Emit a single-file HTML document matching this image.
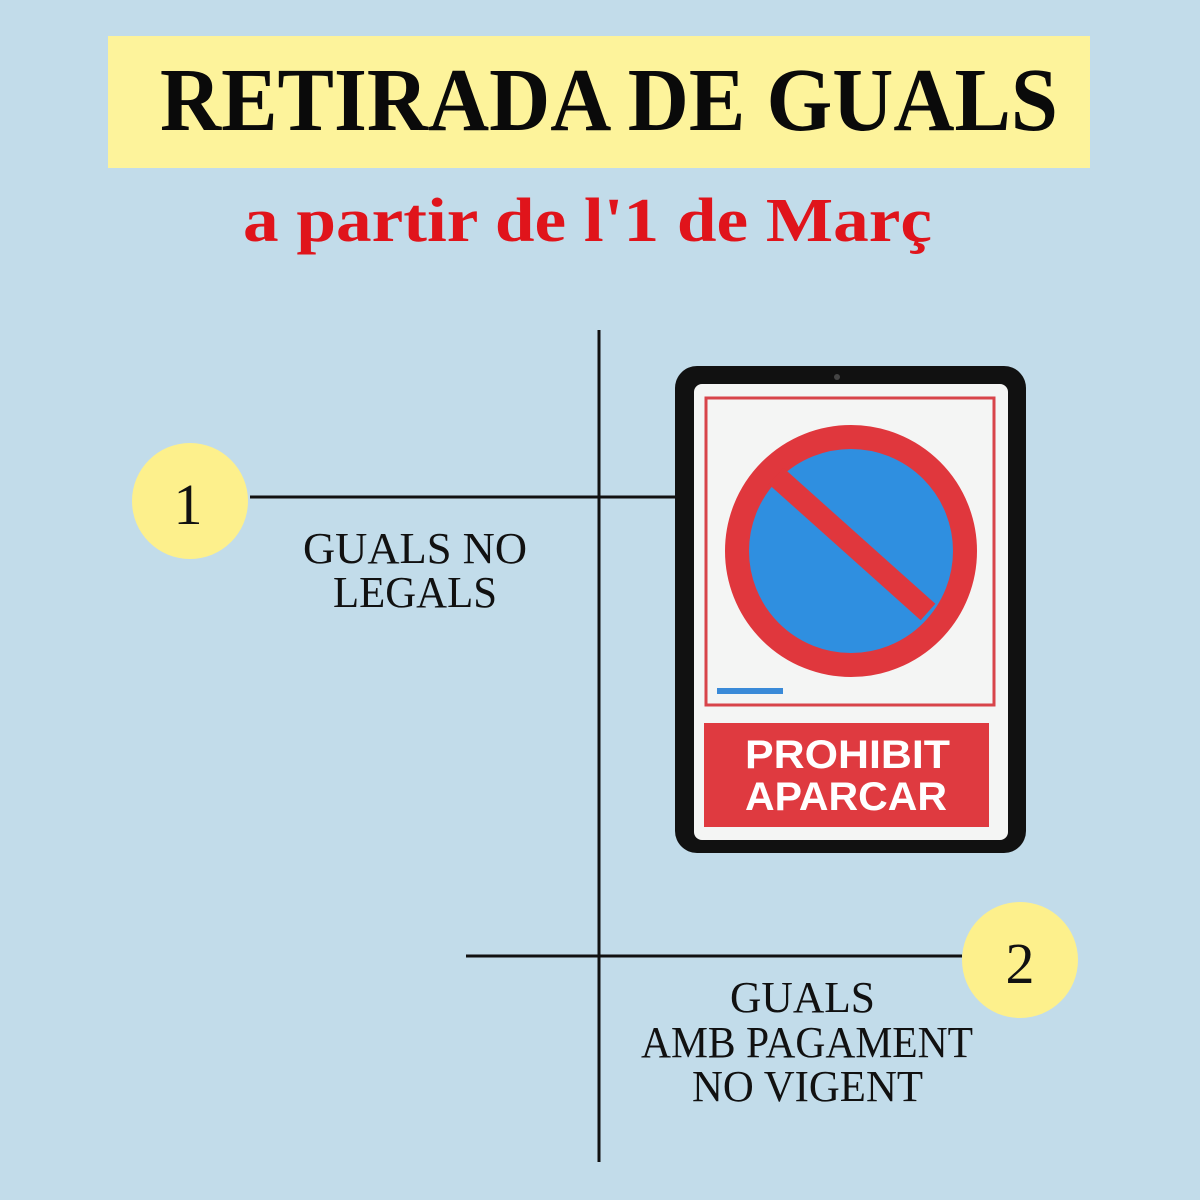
<!DOCTYPE html>
<html><head><meta charset="utf-8"><style>html,body{margin:0;padding:0;background:#c2dcea}svg{display:block}</style></head>
<body>
<svg width="1200" height="1200" viewBox="0 0 1200 1200" xmlns="http://www.w3.org/2000/svg">
<rect width="1200" height="1200" fill="#c2dcea"/>
<rect x="108" y="36" width="982" height="132" fill="#fdf39b"/>
<text x="160" y="130" font-family="Liberation Serif, serif" font-weight="bold" font-size="90" textLength="898" lengthAdjust="spacingAndGlyphs" fill="#0a0a0a">RETIRADA DE GUALS</text>
<text x="243" y="241" font-family="Liberation Serif, serif" font-weight="bold" font-size="62" textLength="689" lengthAdjust="spacingAndGlyphs" fill="#e0141b">a partir de l'1 de Març</text>
<line x1="599" y1="330" x2="599" y2="1162" stroke="#111" stroke-width="3"/>
<line x1="250" y1="497" x2="675" y2="497" stroke="#111" stroke-width="3"/>
<line x1="466" y1="956" x2="962" y2="956" stroke="#111" stroke-width="3"/>
<circle cx="190" cy="501" r="58" fill="#fdf08c"/>
<text x="188" y="524" text-anchor="middle" font-family="Liberation Serif, serif" font-size="58" fill="#111">1</text>
<circle cx="1020" cy="960" r="58" fill="#fdf08c"/>
<text x="1020" y="983" text-anchor="middle" font-family="Liberation Serif, serif" font-size="58" fill="#111">2</text>
<g font-family="Liberation Serif, serif" font-size="44" fill="#111">
<text x="303" y="563" textLength="224" lengthAdjust="spacingAndGlyphs">GUALS NO</text>
<text x="333" y="607" textLength="164" lengthAdjust="spacingAndGlyphs">LEGALS</text>
<text x="730" y="1012" textLength="145" lengthAdjust="spacingAndGlyphs">GUALS</text>
<text x="641" y="1057" textLength="332" lengthAdjust="spacingAndGlyphs">AMB PAGAMENT</text>
<text x="692" y="1101" textLength="231" lengthAdjust="spacingAndGlyphs">NO VIGENT</text>
</g>
<rect x="675" y="366" width="351" height="487" rx="22" fill="#111"/>
<rect x="694" y="384" width="314" height="456" rx="8" fill="#f4f5f4"/>
<circle cx="837" cy="377" r="3" fill="#444"/>
<rect x="706" y="398" width="288" height="307" fill="none" stroke="#d8444a" stroke-width="3"/>
<circle cx="851" cy="551" r="114" fill="#2f8fe0" stroke="#e0373d" stroke-width="24"/>
<line x1="776" y1="476" x2="928" y2="612" stroke="#e0373d" stroke-width="22"/>
<rect x="717" y="688" width="66" height="6" fill="#3a8ad8"/>
<rect x="704" y="723" width="285" height="104" fill="#df3a40"/>
<g font-family="Liberation Sans, sans-serif" font-weight="bold" font-size="40" fill="#fff">
<text x="745" y="768" textLength="205" lengthAdjust="spacingAndGlyphs">PROHIBIT</text>
<text x="745" y="810" textLength="202" lengthAdjust="spacingAndGlyphs">APARCAR</text>
</g>
</svg>
</body></html>
